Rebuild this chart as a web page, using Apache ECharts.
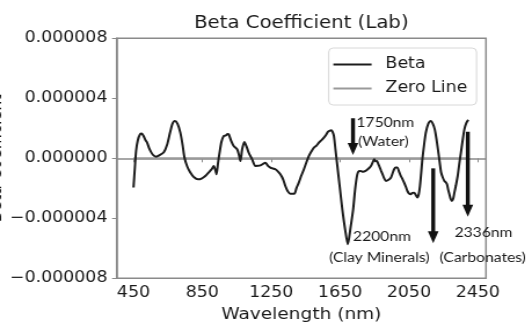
<!DOCTYPE html>
<html>
<head>
<meta charset="utf-8">
<script src="https://cdn.jsdelivr.net/npm/echarts@6/dist/echarts.min.js"></script>
<style>
  html, body { margin: 0; padding: 0; background: #fff; overflow: hidden; }
  /* the figure is drawn narrow and widened horizontally */
  #chart { width: 459px; height: 325px; transform: scaleX(1.159); transform-origin: 0 0; }
</style>
</head>
<body>
<div id="chart"></div>
<script>
// Wavelength (nm) of each sample along the spectrum
const wavelength = [
  450, 458, 465, 475, 488, 498, 510, 520, 529, 540, 554, 568, 582, 600, 626, 645, 662, 676, 690, 706,
  722, 735, 746, 762, 780, 800, 825, 845, 867, 890, 906, 916, 926, 932, 941, 950, 961, 974, 986, 996,
  1003, 1016, 1032, 1052, 1063, 1071, 1081, 1094, 1106, 1119, 1139, 1158, 1173, 1187, 1201, 1216, 1231, 1245, 1259, 1274,
  1291, 1303, 1319, 1332, 1346, 1361, 1384, 1396, 1410, 1425, 1440, 1455, 1469, 1483, 1498, 1513, 1527, 1541, 1556, 1568,
  1579, 1591, 1599, 1607, 1614, 1623, 1634, 1648, 1663, 1680, 1695, 1711, 1726, 1738, 1750, 1760, 1769, 1783, 1798, 1814,
  1829, 1840, 1848, 1857, 1864, 1871, 1877, 1887, 1897, 1905, 1916, 1930, 1945, 1955, 1964, 1973, 1983, 1993, 2003, 2013,
  2022, 2032, 2041, 2051, 2061, 2070, 2080, 2090, 2099, 2107, 2114, 2121, 2128, 2138, 2148, 2162, 2177, 2189, 2200, 2211,
  2221, 2229, 2237, 2247, 2256, 2264, 2271, 2278, 2285, 2292, 2299, 2307, 2314, 2323, 2333, 2342, 2352, 2362, 2372, 2383,
  2395
];

// Beta coefficient at each wavelength, in units of 1e-6
const betaMicro = [
  -1.95, -0.6, 0.5, 1.2, 1.6, 1.65, 1.45, 1.2, 1.05, 0.7, 0.38, 0.18, 0.11, 0.2, 0.4, 0.9, 1.7, 2.3, 2.49, 2.3,
  1.71, 0.9, 0.05, -0.55, -0.95, -1.25, -1.4, -1.35, -1.18, -0.9, -0.7, -0.51, -0.8, -1.07, -0.3, 0.38, 1.1, 1.49, 1.52, 1.62,
  1.6, 1.2, 0.82, 0.6, 0.2, -0.18, 0.6, 1.09, 0.8, 0.38, -0.07, -0.51, -0.5, -0.47, -0.38, -0.29, -0.5, -0.62, -0.68, -0.73,
  -0.9, -1.07, -1.4, -1.85, -2.2, -2.36, -2.36, -2.0, -1.62, -1.15, -0.73, -0.25, 0.16, 0.45, 0.71, 0.85, 1.05, 1.2, 1.38, 1.55,
  1.76, 1.85, 1.87, 1.75, 1.49, 0.6, -0.51, -1.9, -3.4, -4.8, -5.73, -4.6, -3.4, -2.0, -1.07, -0.85, -0.84, -0.9, -0.84, -0.7,
  -0.51, -0.25, -0.07, -0.2, -0.18, -0.35, -0.51, -0.8, -1.07, -1.3, -1.51, -1.45, -1.29, -1.0, -0.73, -0.62, -0.62, -0.9, -1.18, -1.4,
  -1.62, -1.9, -2.18, -2.35, -2.4, -2.3, -2.29, -2.45, -2.62, -2.4, -1.85, -1.0, -0.07, 0.9, 1.71, 2.3, 2.49, 2.3, 1.93, 1.2,
  0.38, -0.3, -0.95, -1.3, -1.51, -1.6, -1.73, -2.1, -2.4, -2.7, -2.84, -2.7, -2.29, -1.8, -1.18, -0.4, 0.38, 1.2, 1.93, 2.35,
  2.56
];

// Reference line at zero across the measured range
const zeroLineX = [450, 2395];
const zeroLineY = [0, 0];

// Axis ticks
const xTicks = [450, 850, 1250, 1650, 2050, 2450];
const yTicks = [-8e-6, -4e-6, 0, 4e-6, 8e-6];

// Absorption feature annotations: arrow position (nm), arrow top and tip (beta)
const arrowLabels = ['1750nm\n(Water)', '2200nm\n(Clay Minerals)', '2336nm\n(Carbonates)'];
const arrowX = [1725, 2191, 2392];
const arrowTop = [2.67e-6, -0.67e-6, 1.77e-6];
const arrowTip = [0.22e-6, -5.67e-6, -3.89e-6];

const betaData = wavelength.map((w, i) => [w, betaMicro[i] * 1e-6]);
const zeroData = zeroLineX.map((w, i) => [w, zeroLineY[i]]);

const FONT = 'DejaVu Sans';
const INK = '#1a1a1a';
const FRAME = '#8a8a8a';

const chart = echarts.init(document.getElementById('chart'), null, { renderer: 'canvas' });

function fmtY(v) {
  if (Math.abs(v) < 1e-12) return '0.000000';
  const s = v.toFixed(6);
  return s.replace('-', '\u2212');
}

chart.setOption({
  animation: false,
  backgroundColor: '#fff',
  title: {
    text: 'Beta Coefficient (Lab)',
    left: 260,
    top: 15,
    textAlign: 'center',
    padding: 0,
    textStyle: { fontFamily: FONT, fontSize: 17, fontWeight: 'normal', color: INK }
  },
  legend: {
    orient: 'vertical',
    left: 283.6,
    top: 48,
    padding: [9, 8, 9, 4],
    itemGap: 9,
    itemWidth: 33,
    itemHeight: 15,
    icon: 'path://M0,7 L33,7 L33,9 L0,9 Z',
    backgroundColor: '#fff',
    borderColor: '#d8d8d8',
    borderWidth: 1,
    borderRadius: 4,
    textStyle: { fontFamily: FONT, fontSize: 15, color: INK, padding: [0, 0, 0, 7] },
    data: ['Beta', 'Zero Line']
  },
  grid: {
    left: 100.7,
    right: 39.7,
    top: 38.3,
    bottom: 46.7,
    show: true,
    borderColor: FRAME,
    borderWidth: 1.5,
    containLabel: false,
    outerBoundsMode: 'none'
  },
  xAxis: {
    type: 'value',
    min: 352.5,
    max: 2497.5,
    name: 'Wavelength (nm)',
    nameLocation: 'middle',
    nameGap: 29,
    nameTextStyle: { fontFamily: FONT, fontSize: 16, color: INK },
    axisLine: { show: true, lineStyle: { color: FRAME, width: 1.5 } },
    axisTick: { show: true, length: 4, lineStyle: { color: FRAME }, customValues: xTicks },
    axisLabel: {
      fontFamily: FONT, fontSize: 15, color: INK, margin: 7, customValues: xTicks,
      formatter: v => String(v)
    },
    splitLine: { show: false }
  },
  yAxis: {
    type: 'value',
    min: yTicks[0],
    max: yTicks[yTicks.length - 1],
    interval: 4e-6,
    name: 'Beta Coefficient',
    nameLocation: 'middle',
    nameGap: 96,
    nameRotate: 90,
    nameMoveOverlap: false,
    nameTextStyle: { fontFamily: FONT, fontSize: 16, color: INK },
    axisLine: { show: true, lineStyle: { color: FRAME, width: 1.5 } },
    axisTick: { show: true, length: 4, lineStyle: { color: FRAME } },
    axisLabel: { fontFamily: FONT, fontSize: 15, color: INK, margin: 8, formatter: fmtY },
    splitLine: { show: false }
  },
  series: [
    {
      name: 'Beta',
      type: 'line',
      data: betaData,
      symbol: 'none',
      smooth: 0.25,
      lineStyle: { color: '#1c1c1c', width: 2 },
      itemStyle: { color: '#1c1c1c' },
      z: 3
    },
    {
      name: 'Zero Line',
      type: 'line',
      data: zeroData,
      symbol: 'none',
      lineStyle: { color: '#9a9a9a', width: 2 },
      itemStyle: { color: '#9a9a9a' },
      z: 2
    }
  ]
});

// Annotation arrows, placed through the grid's own scales
const ANNOT_FONT = 'Lato';
const graphics = [];
arrowX.forEach((x, i) => {
  const p0 = chart.convertToPixel({ gridIndex: 0 }, [x, arrowTop[i]]);
  const p1 = chart.convertToPixel({ gridIndex: 0 }, [x, arrowTip[i]]);
  const headH = 12, headHalf = 4.6;
  graphics.push({
    type: 'line',
    shape: { x1: p0[0], y1: p0[1], x2: p1[0], y2: p1[1] - headH + 1 },
    style: { stroke: '#111', lineWidth: 3.4 },
    z: 10
  });
  graphics.push({
    type: 'polygon',
    shape: { points: [[p1[0] - headHalf, p1[1] - headH], [p1[0] + headHalf, p1[1] - headH], [p1[0], p1[1]]] },
    style: { fill: '#111' },
    z: 10
  });
});

// Annotation captions
const captionPos = [
  [[307.5, 123], [308.9, 142]],
  [[304.6, 237], [283.9, 258]],
  [[392.2, 233], [379.3, 258]]
];
arrowLabels.forEach((label, i) => {
  label.split('\n').forEach((line, j) => {
    graphics.push({
      type: 'text',
      x: captionPos[i][j][0],
      y: captionPos[i][j][1],
      style: {
        text: line,
        font: '13.5px ' + ANNOT_FONT,
        fill: INK,
        textAlign: 'left',
        textVerticalAlign: 'middle'
      },
      z: 11
    });
  });
});

chart.setOption({ graphic: graphics });
</script>
</body>
</html>
